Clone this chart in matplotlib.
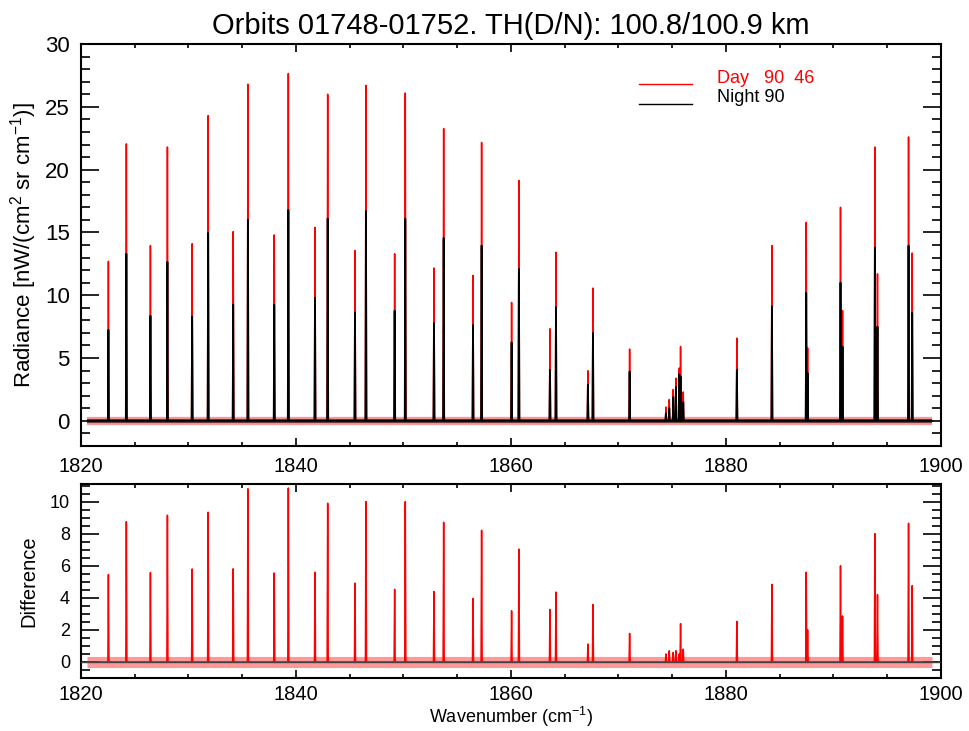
import numpy as np
import matplotlib
matplotlib.use("Agg")
import matplotlib.pyplot as plt
from matplotlib.ticker import MultipleLocator

plt.rcParams['font.family'] = ['Liberation Sans', 'DejaVu Sans']
plt.rcParams['mathtext.fontset'] = 'custom'
plt.rcParams['mathtext.rm'] = 'Liberation Sans'
plt.rcParams['mathtext.it'] = 'Liberation Sans'

# ---- data ----
line_pos = [1822.55, 1824.22, 1826.46, 1828.04, 1830.34, 1831.83, 1834.16, 1835.53,
            1837.98, 1839.29, 1841.77, 1842.95, 1845.49, 1846.51, 1849.18, 1850.17,
            1852.84, 1853.74, 1856.47, 1857.27, 1860.06, 1860.74, 1863.63, 1864.19,
            1867.16, 1867.63, 1871.04,
            1874.42, 1874.73, 1875.10, 1875.35, 1875.66, 1875.78, 1876.03,
            1881.02, 1884.28, 1887.47, 1887.60, 1890.66, 1890.85, 1893.86, 1894.10,
            1896.99, 1897.33]
day_rad = [12.7, 22.05, 13.95, 21.8, 14.1, 24.3, 15.06, 26.8,
           14.8, 27.65, 15.4, 26.0, 13.55, 26.7, 13.3, 26.1,
           12.17, 23.27, 11.58, 22.16, 9.43, 19.13, 7.33, 13.42,
           3.99, 10.57, 5.71,
           1.1, 1.7, 2.5, 3.4, 4.2, 5.92, 2.3,
           6.59, 13.95, 15.8, 5.8, 17.0, 8.77, 21.8, 11.7,
           22.6, 13.36]
night_rad = [7.25, 13.3, 8.37, 12.65, 8.3, 14.96, 9.25, 16.0,
             9.25, 16.8, 9.8, 16.1, 8.63, 16.7, 8.77, 16.1,
             7.78, 14.56, 7.62, 13.95, 6.24, 12.09, 4.06, 9.06,
             2.87, 6.99, 3.93,
             0.6, 1.0, 1.9, 2.7, 3.7, 3.53, 1.5,
             4.06, 9.11, 10.2, 3.8, 11.0, 5.9, 13.8, 7.5,
             13.95, 8.6]
spec_start, spec_end = 1820.6, 1899.2

title = "Orbits 01748-01752. TH(D/N): 100.8/100.9 km"
legend_day = "Day   90  46"
legend_night = "Night 90"


def spectrum(pos, vals, hw=0.05):
    xs = [spec_start]
    ys = [0.0]
    for p, v in sorted(zip(pos, vals)):
        xs += [p - hw, p, p + hw]
        ys += [0.0, v, 0.0]
    xs.append(spec_end)
    ys.append(0.0)
    return np.array(xs), np.array(ys)


xd, yd = spectrum(line_pos, day_rad)
xn, yn = spectrum(line_pos, night_rad)
diff = [d - n for d, n in zip(day_rad, night_rad)]
xf, yf = spectrum(line_pos, diff)

fig = plt.figure(figsize=(9.7, 7.31), dpi=100)
ax1 = fig.add_axes([0.0835, 0.3899, 0.8865, 0.5499])
ax2 = fig.add_axes([0.0835, 0.0725, 0.8865, 0.2654])

# top panel
ax1.plot([spec_start, spec_end], [0, 0], color='red', lw=6, alpha=0.4, solid_capstyle='butt')
ax1.plot([spec_start, spec_end], [0, 0], color='black', lw=3, alpha=0.6, solid_capstyle='butt')
ax1.plot(xd, yd, color='red', lw=1.1)
ax1.plot(xn, yn, color='black', lw=1.3)
ax1.set_xlim(1820, 1900)
ax1.set_ylim(-2, 30)
ax1.set_title(title, fontsize=21, pad=7)
ax1.set_ylabel("Radiance [nW/(cm$^{2}$ sr cm$^{-1}$)]", fontsize=16, labelpad=4)

# legend drawn by hand
ax1.plot([0.649, 0.7105], [0.9005, 0.9005], color='red', lw=1, transform=ax1.transAxes)
ax1.plot([0.649, 0.7105], [0.851, 0.851], color='black', lw=1, transform=ax1.transAxes)
ax1.text(0.7395, 0.913, legend_day, color='red', fontsize=13, va='center', transform=ax1.transAxes)
ax1.text(0.7395, 0.866, legend_night, color='black', fontsize=13, va='center', transform=ax1.transAxes)

# bottom panel
ax2.plot([spec_start, spec_end], [0, 0], color='red', lw=8, alpha=0.4, solid_capstyle='butt')
ax2.plot(xf, yf, color='red', lw=1.1)
ax2.axhline(0, color='#444444', lw=1.0, zorder=3)
ax2.set_xlim(1820, 1900)
ax2.set_ylim(-1, 11.1)
ax2.set_ylabel("Difference", fontsize=14.5, labelpad=8)

for ax, ymaj, ymin, ylabsize, xpad in [(ax1, 5, 1, 16, 8), (ax2, 2, 0.5, 13, 5)]:
    ax.xaxis.set_major_locator(MultipleLocator(20))
    ax.xaxis.set_minor_locator(MultipleLocator(5))
    ax.yaxis.set_major_locator(MultipleLocator(ymaj))
    ax.yaxis.set_minor_locator(MultipleLocator(ymin))
    ax.tick_params(axis='both', which='both', direction='in', top=True, right=True, width=1.2)
    ax.tick_params(axis='x', which='major', length=6, labelsize=14.5, pad=xpad)
    ax.tick_params(axis='x', which='minor', length=3)
    ax.tick_params(axis='y', which='major', length=13, labelsize=ylabsize, pad=8)
    ax.tick_params(axis='y', which='minor', length=6.5)
    for s in ax.spines.values():
        s.set_linewidth(1.5)

fig.text(0.527, 0.019, "Wavenumber (cm$^{-1}$)", fontsize=13, ha='center', va='center')

fig.savefig("out.png", dpi=100)
